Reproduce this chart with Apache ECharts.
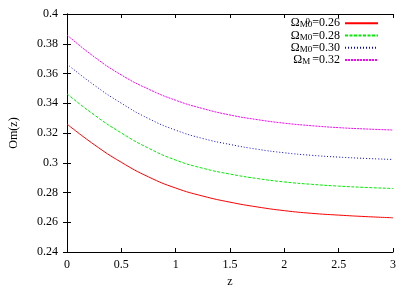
<!DOCTYPE html>
<html>
<head>
<meta charset="utf-8">
<script src="https://cdn.jsdelivr.net/npm/echarts@6/dist/echarts.min.js"></script>
<style>html,body{margin:0;padding:0;background:#fff}#c{width:415px;height:291px}</style>
</head>
<body>
<div id="c"></div>
<script>
// Data
var zValues = [0, 0.25, 0.5, 0.75, 1, 1.25, 1.5, 1.75, 2, 2.25, 2.5, 2.75, 3];
var om026 = [0.3260, 0.3122, 0.3003, 0.2905, 0.2830, 0.2776, 0.2735, 0.2703, 0.2678, 0.2660, 0.2648, 0.2638, 0.2630];
var om028 = [0.3463, 0.3322, 0.3200, 0.3098, 0.3018, 0.2963, 0.2924, 0.2894, 0.2871, 0.2855, 0.2843, 0.2834, 0.2827];
var om030 = [0.3663, 0.3522, 0.3400, 0.3297, 0.3219, 0.3163, 0.3123, 0.3091, 0.3067, 0.3050, 0.3038, 0.3029, 0.3022];
var om032 = [0.3859, 0.3712, 0.3590, 0.3495, 0.3420, 0.3364, 0.3321, 0.3290, 0.3266, 0.3249, 0.3236, 0.3227, 0.3220];
var xTickLabels = ['0', '0.5', '1', '1.5', '2', '2.5', '3'];
var yTickLabels = ['0.24', '0.26', '0.28', '0.3', '0.32', '0.34', '0.36', '0.38', '0.4'];
var seriesNames = ['Om0=0.26', 'Om0=0.28', 'Om0=0.30', 'Om0=0.32'];
var legendValues = ['=0.26', '=0.28', '=0.30', '=0.32'];

var FONT = 'Liberation Serif';
function pairs(arr) { return zValues.map(function (z, i) { return [z, arr[i]]; }); }
function yLab(v) {
  var idx = Math.round((v - 0.24) / 0.02);
  return yTickLabels[idx] !== undefined ? yTickLabels[idx] : '';
}
function xLab(v) {
  var idx = Math.round(v / 0.5);
  return xTickLabels[idx] !== undefined ? xTickLabels[idx] : '';
}

var chart = echarts.init(document.getElementById('c'), null, { renderer: 'canvas' });
var axisCommon = {
  axisLine: { show: true, lineStyle: { color: '#000', width: 1 } },
  axisTick: { show: true, inside: true, length: 4, lineStyle: { color: '#000', width: 1 } },
  splitLine: { show: false },
  minorTick: { show: false }
};
var colors = ['#ff0000', '#00ee00', '#0000ff', '#ff00ff'];
var dashes = ['solid', [3, 1.5], [1, 2], [2, 1]];
var datasets = [om026, om028, om030, om032];

function legendFmt(name) {
  var i = seriesNames.indexOf(name);
  if (i === 0) return '{w|Ω}{m|M}{sp|0}{z|0}{w|' + legendValues[i] + '}';
  if (i === 3) return '{w|Ω}{m|M}{g| }{w|' + legendValues[i] + '}';
  return '{w|Ω}{m|M}{z|0}{w|' + legendValues[i] + '}';
}

var option = {
  animation: false,
  backgroundColor: '#fff',
  textStyle: { fontFamily: FONT },
  grid: { left: 67, right: 22, top: 14, bottom: 39, containLabel: false, outerBoundsMode: 'none' },
  legend: {
    orient: 'vertical',
    right: 36,
    top: 17,
    align: 'right',
    itemGap: 0,
    itemWidth: 33,
    itemHeight: 12,
    padding: 0,
    data: seriesNames,
    formatter: legendFmt,
    itemStyle: { opacity: 0 },
    textStyle: {
      fontFamily: FONT, color: '#000', fontSize: 12,
      rich: {
        w: { fontFamily: FONT, fontSize: 12, lineHeight: 12.5, color: '#000', verticalAlign: 'middle' },
        m: { fontFamily: FONT, fontSize: 9, lineHeight: 9, color: '#000', verticalAlign: 'bottom' },
        z: { fontFamily: FONT, fontSize: 9, lineHeight: 9, color: '#000', verticalAlign: 'bottom' },
        sp: { fontFamily: FONT, fontSize: 9, lineHeight: 9, color: '#000', verticalAlign: 'top', width: 0, align: 'left' },
        g: { fontFamily: FONT, fontSize: 9, lineHeight: 9, width: 2 }
      }
    }
  },
  xAxis: [
    Object.assign({}, axisCommon, {
      type: 'value', min: 0, max: 3, interval: 0.5, position: 'bottom',
      name: 'z', nameLocation: 'middle', nameGap: 24,
      nameTextStyle: { fontFamily: FONT, fontSize: 12, color: '#000' },
      axisLabel: { show: true, margin: 7, fontFamily: FONT, fontSize: 12, color: '#000', formatter: xLab }
    }),
    Object.assign({}, axisCommon, {
      type: 'value', min: 0, max: 3, interval: 0.5, position: 'top',
      axisLabel: { show: false }
    })
  ],
  yAxis: [
    Object.assign({}, axisCommon, {
      type: 'value', min: 0.24, max: 0.4, interval: 0.02, position: 'left',
      name: 'Om(z)', nameLocation: 'middle', nameGap: 47, nameRotate: 90,
      nameTextStyle: { fontFamily: FONT, fontSize: 12, color: '#000' },
      axisLabel: { show: true, margin: 9, fontFamily: FONT, fontSize: 12, color: '#000', formatter: yLab }
    }),
    Object.assign({}, axisCommon, {
      type: 'value', min: 0.24, max: 0.4, interval: 0.02, position: 'right',
      axisLabel: { show: false }
    })
  ],
  series: datasets.map(function (d, i) {
    return {
      name: seriesNames[i],
      type: 'line',
      xAxisIndex: 0, yAxisIndex: 0,
      data: pairs(d),
      smooth: 0.5,
      symbol: 'none',
      showSymbol: false,
      color: colors[i],
      lineStyle: { color: colors[i], width: 1, type: dashes[i] },
      itemStyle: { color: colors[i] }
    };
  })
};
chart.setOption(option);
</script>
</body>
</html>
